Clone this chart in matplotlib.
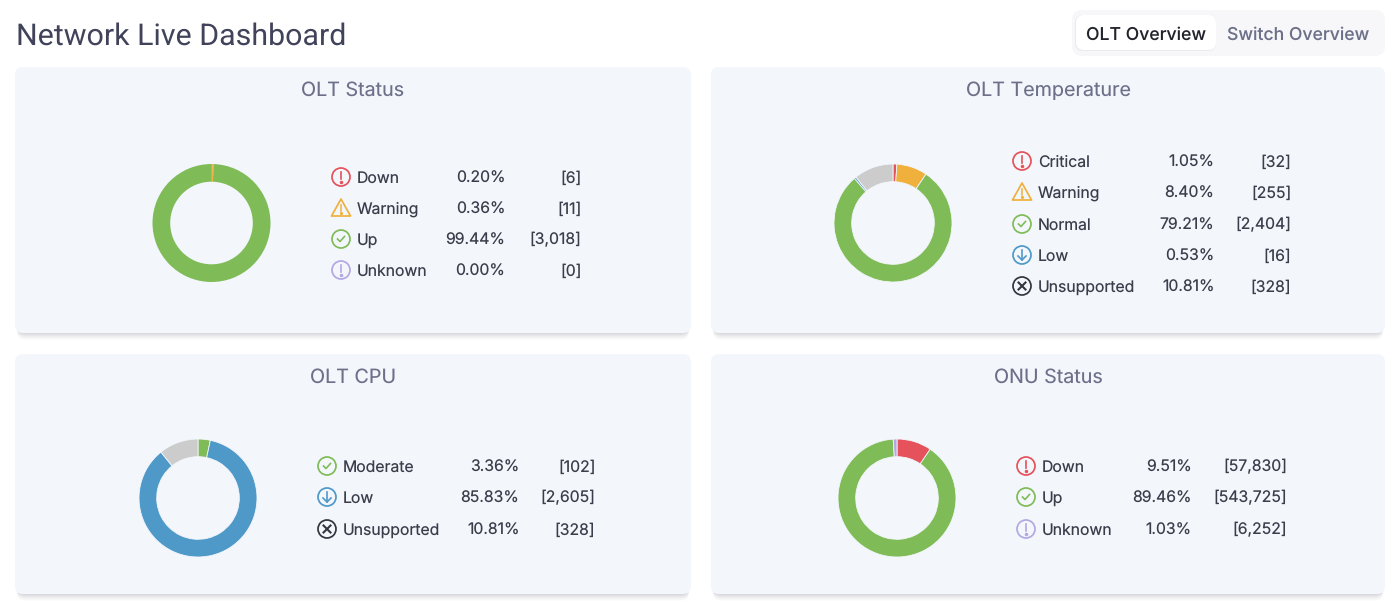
import matplotlib
matplotlib.use("Agg")
import matplotlib.pyplot as plt
from matplotlib.patches import Circle, FancyBboxPatch, Polygon

W, H = 1400, 607
plt.rcParams["font.family"] = ["Inter", "DejaVu Sans"]
plt.rcParams["text.hinting"] = "no_hinting"

# data
status_labels = ["Down", "Warning", "Up", "Unknown"]
status_pct = ["0.20%", "0.36%", "99.44%", "0.00%"]
status_counts = [6, 11, 3018, 0]

temp_labels = ["Critical", "Warning", "Normal", "Low", "Unsupported"]
temp_pct = ["1.05%", "8.40%", "79.21%", "0.53%", "10.81%"]
temp_counts = [32, 255, 2404, 16, 328]

cpu_labels = ["Moderate", "Low", "Unsupported"]
cpu_pct = ["3.36%", "85.83%", "10.81%"]
cpu_counts = [102, 2605, 328]

onu_labels = ["Down", "Up", "Unknown"]
onu_pct = ["9.51%", "89.46%", "1.03%"]
onu_counts = [57830, 543725, 6252]

RED = "#e5525b"
ORANGE = "#efb03c"
GREEN = "#7fbc58"
BLUE = "#4f99c9"
GRAY = "#cccccc"
PURPLE = "#b3a8e2"
DARK = "#33363f"

# label -> (icon, colour)
KINDS = {
    "Down": ("bang", RED),
    "Critical": ("bang", RED),
    "Warning": ("tri", ORANGE),
    "Up": ("check", GREEN),
    "Normal": ("check", GREEN),
    "Moderate": ("check", GREEN),
    "Low": ("arrow", BLUE),
    "Unknown": ("bang", PURPLE),
    "Unsupported": ("cross", DARK),
}
SLICE = {"Unsupported": GRAY}

CARD = "#f3f6fb"
TITLE_C = "#6c7089"
TEXT_C = "#3a3d4a"

fig = plt.figure(figsize=(W / 100, H / 100), dpi=100, facecolor="white")
bg = fig.add_axes([0, 0, 1, 1])
bg.set_xlim(0, W)
bg.set_ylim(H, 0)
bg.axis("off")


def rounded(x0, y0, x1, y1, r, color, alpha=1.0, z=1):
    bg.add_patch(FancyBboxPatch((x0 + r, y0 + r), x1 - x0 - 2 * r, y1 - y0 - 2 * r,
                                boxstyle=f"round,pad={r},rounding_size={r}",
                                fc=color, ec="none", alpha=alpha, zorder=z))


def draw_icon(kind, x, y, color):
    lw = 1.25
    if kind == "tri":
        bg.add_patch(Polygon([(x, y - 9), (x + 9.5, y + 8), (x - 9.5, y + 8)], closed=True,
                             fc="none", ec=color, lw=lw, joinstyle="round", zorder=5))
        bg.plot([x, x], [y - 3, y + 2.5], color=color, lw=1.1, zorder=5)
        bg.plot([x], [y + 5], marker="o", ms=1.3, color=color, zorder=5)
        return
    bg.add_patch(Circle((x, y), 9, fc="none", ec=color, lw=lw, zorder=5))
    if kind == "bang":
        bg.plot([x, x], [y - 5, y + 1.5], color=color, lw=1.2, zorder=5)
        bg.plot([x], [y + 4.5], marker="o", ms=1.5, color=color, zorder=5)
    elif kind == "check":
        bg.plot([x - 3.5, x - 1, x + 3.5], [y, y + 2.5, y - 2.5], color=color, lw=1.2, zorder=5)
    elif kind == "arrow":
        bg.plot([x, x], [y - 5, y + 5], color=color, lw=1.2, zorder=5)
        bg.plot([x - 4, x, x + 4], [y + 1, y + 5, y + 1], color=color, lw=1.2, zorder=5)
    elif kind == "cross":
        bg.plot([x - 3.5, x + 3.5], [y - 3.5, y + 3.5], color=color, lw=1.5, zorder=5)
        bg.plot([x - 3.5, x + 3.5], [y + 3.5, y - 3.5], color=color, lw=1.5, zorder=5)


def draw_card(box, title, cx, cy, labels, pct, counts, rows, icon_x, pct_x, count_x, edge=0.6):
    x0, y0, x1, y1 = box
    # soft shadow under the card
    for i, a in zip((7, 6, 5, 4, 3, 2, 1), (0.012, 0.014, 0.018, 0.022, 0.028, 0.032, 0.036)):
        rounded(x0 + 2, y0 + 4, x1 - 2, y1 + i, 8, "#20263a", a, 1)
    rounded(x0, y0, x1, y1, 8, CARD, 1, 2)
    bg.text((x0 + x1) / 2, y0 + 28.5, title, ha="center", va="baseline", fontsize=14.2, color=TITLE_C, zorder=6)

    r = 59
    ax = fig.add_axes([(cx - r) / W, 1 - (cy + r) / H, 2 * r / W, 2 * r / H])
    colors = [SLICE.get(l, KINDS[l][1]) for l in labels]
    ax.pie(counts, colors=colors, startangle=90, counterclock=False, radius=1,
           wedgeprops=dict(width=0.3, edgecolor=CARD, linewidth=edge))
    ax.set_xlim(-1, 1)
    ax.set_ylim(-1, 1)
    ax.patch.set_alpha(0)

    for lab, p, c, y in zip(labels, pct, counts, rows):
        kind, col = KINDS[lab]
        draw_icon(kind, icon_x, y, col)
        base = y + 5.5
        bg.text(icon_x + 16, base, lab, ha="left", va="baseline", fontsize=11.35, color=TEXT_C, zorder=6)
        bg.text(pct_x + 0.5, base, p, ha="right", va="baseline", fontsize=11.35, color=TEXT_C, zorder=6)
        bg.text(count_x + 0.5, base, f"[{c:,}]", ha="right", va="baseline", fontsize=11.35, color=TEXT_C, zorder=6)


# header
bg.text(16, 44.5, "Network Live Dashboard", ha="left", va="baseline", fontsize=21.9, color="#40435a", family=["Roboto", "DejaVu Sans"])
rounded(1072, 10, 1385, 56, 10, "#f7f7fa", 1, 1)
rounded(1075, 15, 1216, 51, 8, "#20263a", 0.06, 2)
rounded(1076, 15, 1216, 50, 8, "white", 1, 3)
bg.text(1146, 39.5, "OLT Overview", ha="center", va="baseline", fontsize=12.7, color="#23242b", zorder=4, fontweight="medium")
bg.text(1298, 39.5, "Switch Overview", ha="center", va="baseline", fontsize=12.7, color="#6c7089", zorder=4, fontweight="medium")

draw_card((15, 67, 691, 333), "OLT Status", 211.5, 223, status_labels, status_pct, status_counts,
          [177, 208, 239, 270], 341, 505, 581, edge=0)
draw_card((711, 67, 1385, 333), "OLT Temperature", 893, 223, temp_labels, temp_pct, temp_counts,
          [161, 192, 224, 255, 286], 1022, 1214, 1291)
draw_card((15, 354, 691, 594), "OLT CPU", 198, 498, cpu_labels, cpu_pct, cpu_counts,
          [466, 497, 529], 327, 519, 595)
draw_card((711, 354, 1385, 594), "ONU Status", 897, 498, onu_labels, onu_pct, onu_counts,
          [466, 497, 529], 1026, 1191, 1287)

fig.savefig("out.png", dpi=100, facecolor="white")
plt.close(fig)
